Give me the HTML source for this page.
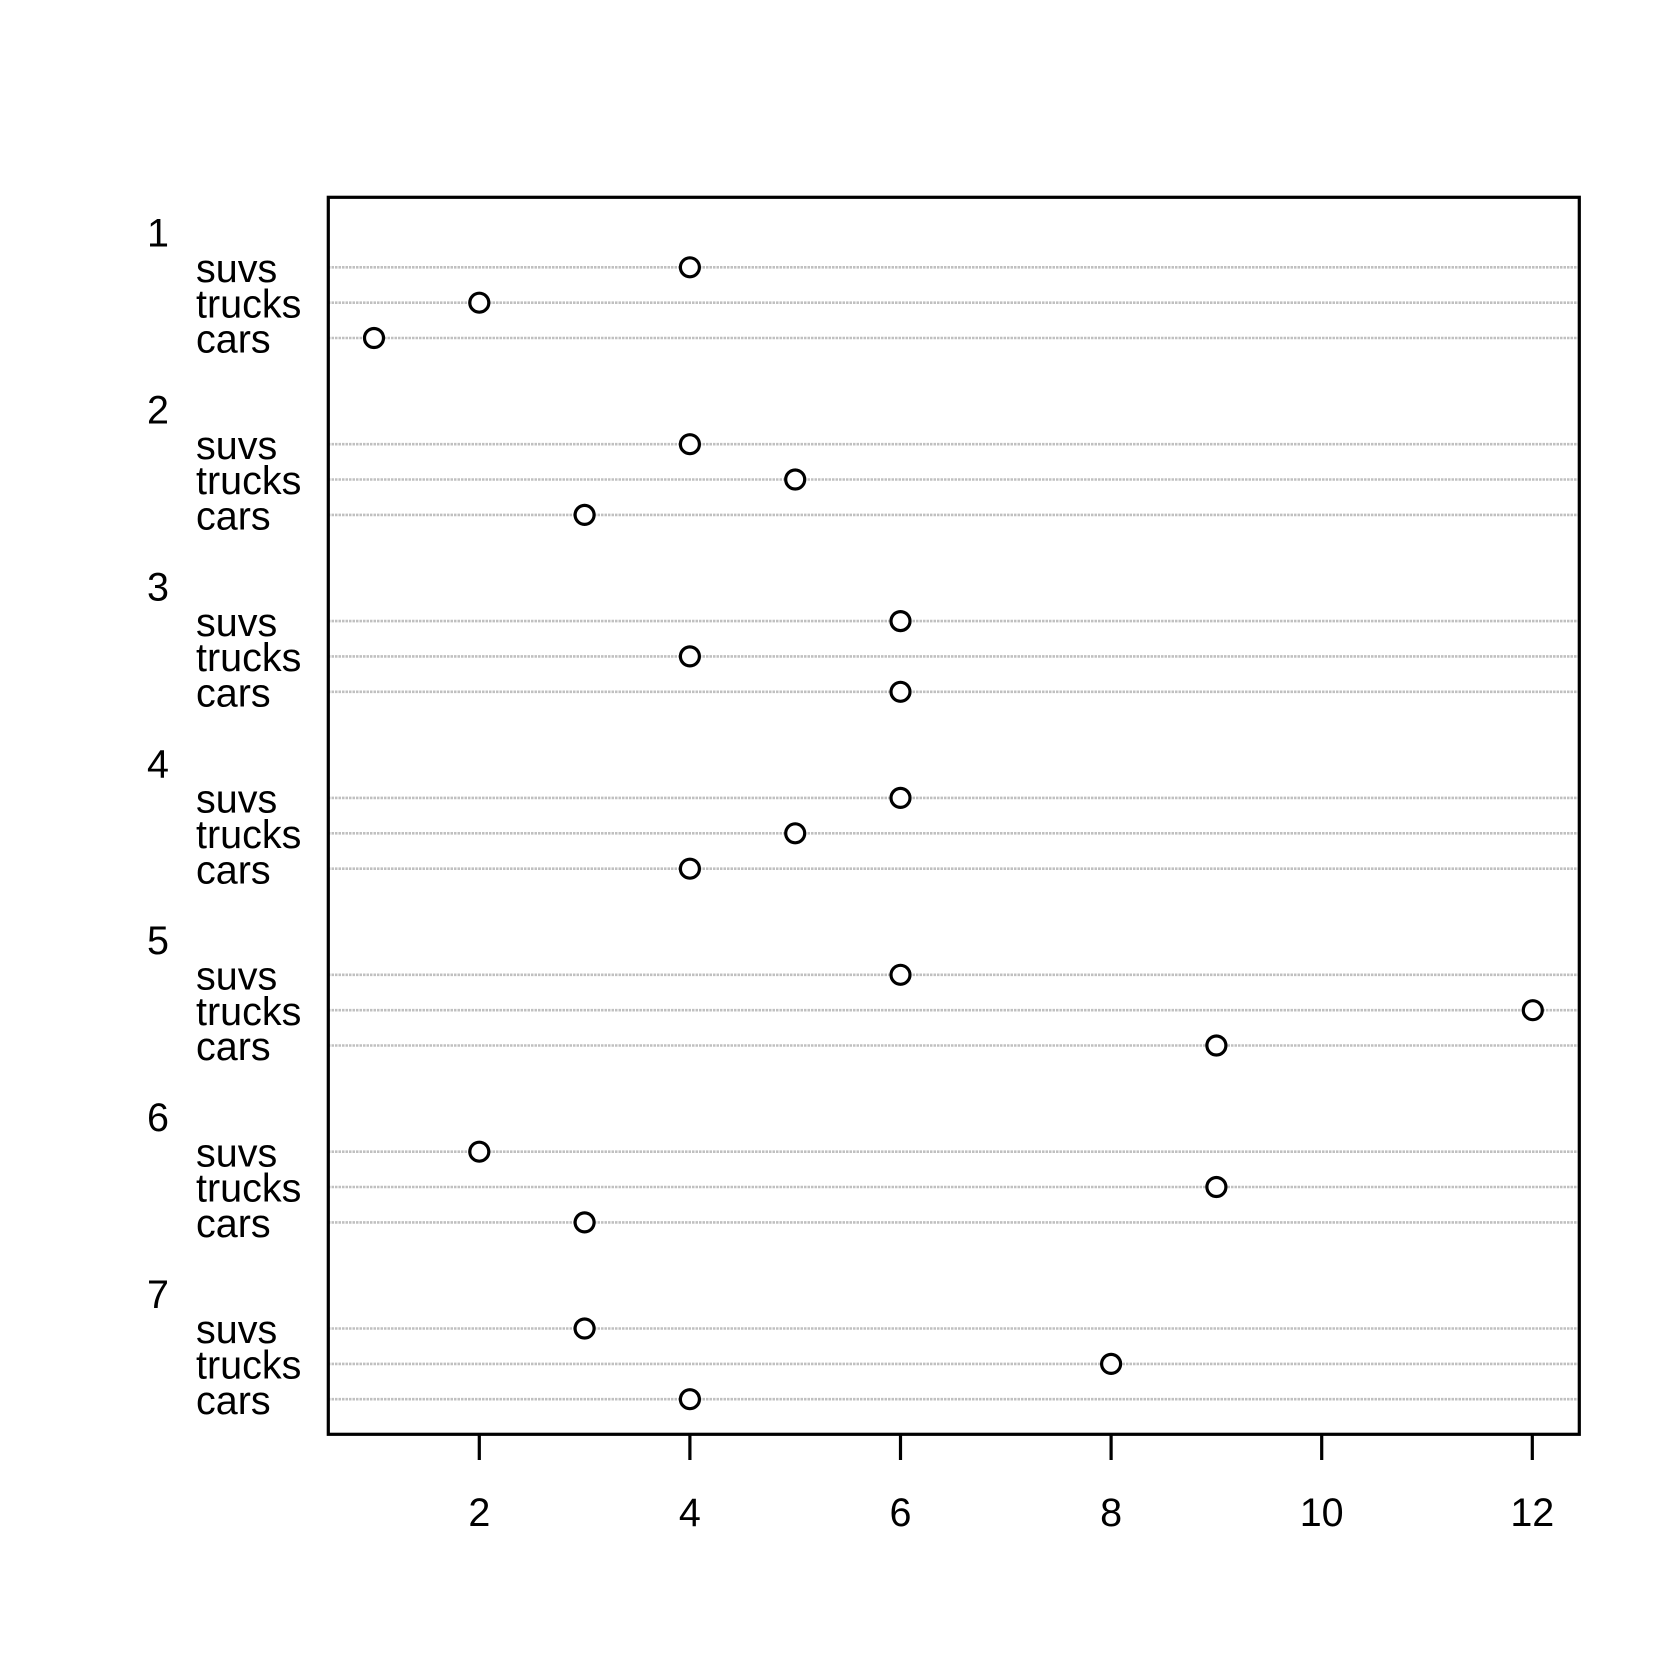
<!DOCTYPE html>
<html><head><meta charset="utf-8"><style>html,body{margin:0;padding:0;background:#fff}svg{display:block}</style></head>
<body>
<svg xmlns="http://www.w3.org/2000/svg" width="1680" height="1680" viewBox="0 0 1680 1680">
<rect width="1680" height="1680" fill="#fff"/>
<g stroke="#c0c0c0" stroke-width="2.6" stroke-dasharray="2.5 1">
<line x1="328" x2="1578" y1="267.3" y2="267.3"/><line x1="328" x2="1578" y1="302.7" y2="302.7"/><line x1="328" x2="1578" y1="338.0" y2="338.0"/>
<line x1="328" x2="1578" y1="444.2" y2="444.2"/><line x1="328" x2="1578" y1="479.5" y2="479.5"/><line x1="328" x2="1578" y1="514.9" y2="514.9"/>
<line x1="328" x2="1578" y1="621.1" y2="621.1"/><line x1="328" x2="1578" y1="656.4" y2="656.4"/><line x1="328" x2="1578" y1="691.8" y2="691.8"/>
<line x1="328" x2="1578" y1="797.9" y2="797.9"/><line x1="328" x2="1578" y1="833.3" y2="833.3"/><line x1="328" x2="1578" y1="868.7" y2="868.7"/>
<line x1="328" x2="1578" y1="974.8" y2="974.8"/><line x1="328" x2="1578" y1="1010.2" y2="1010.2"/><line x1="328" x2="1578" y1="1045.5" y2="1045.5"/>
<line x1="328" x2="1578" y1="1151.7" y2="1151.7"/><line x1="328" x2="1578" y1="1187.0" y2="1187.0"/><line x1="328" x2="1578" y1="1222.4" y2="1222.4"/>
<line x1="328" x2="1578" y1="1328.5" y2="1328.5"/><line x1="328" x2="1578" y1="1363.9" y2="1363.9"/><line x1="328" x2="1578" y1="1399.2" y2="1399.2"/>
</g>
<g fill="#fff" stroke="#000" stroke-width="3.2">
<circle cx="689.9" cy="267.3" r="9.5"/><circle cx="479.3" cy="302.7" r="9.5"/><circle cx="374.0" cy="338.0" r="9.5"/>
<circle cx="689.9" cy="444.2" r="9.5"/><circle cx="795.2" cy="479.5" r="9.5"/><circle cx="584.6" cy="514.9" r="9.5"/>
<circle cx="900.5" cy="621.1" r="9.5"/><circle cx="689.9" cy="656.4" r="9.5"/><circle cx="900.5" cy="691.8" r="9.5"/>
<circle cx="900.5" cy="797.9" r="9.5"/><circle cx="795.2" cy="833.3" r="9.5"/><circle cx="689.9" cy="868.7" r="9.5"/>
<circle cx="900.5" cy="974.8" r="9.5"/><circle cx="1532.8" cy="1010.2" r="9.5"/><circle cx="1216.4" cy="1045.5" r="9.5"/>
<circle cx="479.3" cy="1151.7" r="9.5"/><circle cx="1216.4" cy="1187.0" r="9.5"/><circle cx="584.6" cy="1222.4" r="9.5"/>
<circle cx="584.6" cy="1328.5" r="9.5"/><circle cx="1111.1" cy="1363.9" r="9.5"/><circle cx="689.9" cy="1399.2" r="9.5"/>
</g>
<rect x="328.3" y="197.3" width="1251" height="1237" fill="none" stroke="#000" stroke-width="3.2"/>
<g stroke="#000" stroke-width="3.2">
<line x1="479.3" x2="479.3" y1="1434" y2="1460"/><line x1="689.9" x2="689.9" y1="1434" y2="1460"/><line x1="900.5" x2="900.5" y1="1434" y2="1460"/>
<line x1="1111.1" x2="1111.1" y1="1434" y2="1460"/><line x1="1321.7" x2="1321.7" y1="1434" y2="1460"/><line x1="1532.3" x2="1532.3" y1="1434" y2="1460"/>
</g>
<g font-family="Liberation Sans, Arial, sans-serif" font-size="39.5" fill="#000">
<g text-anchor="middle">
<text x="479.3" y="1526">2</text><text x="689.9" y="1526">4</text><text x="900.5" y="1526">6</text>
<text x="1111.1" y="1526">8</text><text x="1321.7" y="1526">10</text><text x="1532.3" y="1526">12</text>
</g>
<text x="147" y="246.6">1</text><text x="147" y="423.5">2</text><text x="147" y="600.4">3</text><text x="147" y="777.3">4</text>
<text x="147" y="954.2">5</text><text x="147" y="1131.0">6</text><text x="147" y="1307.9">7</text>
<text x="196" y="282">suvs</text><text x="196" y="317.4">trucks</text><text x="196" y="352.7">cars</text>
<text x="196" y="458.9">suvs</text><text x="196" y="494.2">trucks</text><text x="196" y="529.6">cars</text>
<text x="196" y="635.8">suvs</text><text x="196" y="671.1">trucks</text><text x="196" y="706.5">cars</text>
<text x="196" y="812.6">suvs</text><text x="196" y="848">trucks</text><text x="196" y="883.4">cars</text>
<text x="196" y="989.5">suvs</text><text x="196" y="1024.9">trucks</text><text x="196" y="1060.2">cars</text>
<text x="196" y="1166.4">suvs</text><text x="196" y="1201.7">trucks</text><text x="196" y="1237.1">cars</text>
<text x="196" y="1343.2">suvs</text><text x="196" y="1378.6">trucks</text><text x="196" y="1413.9">cars</text>
</g>
</svg>
</body></html>
